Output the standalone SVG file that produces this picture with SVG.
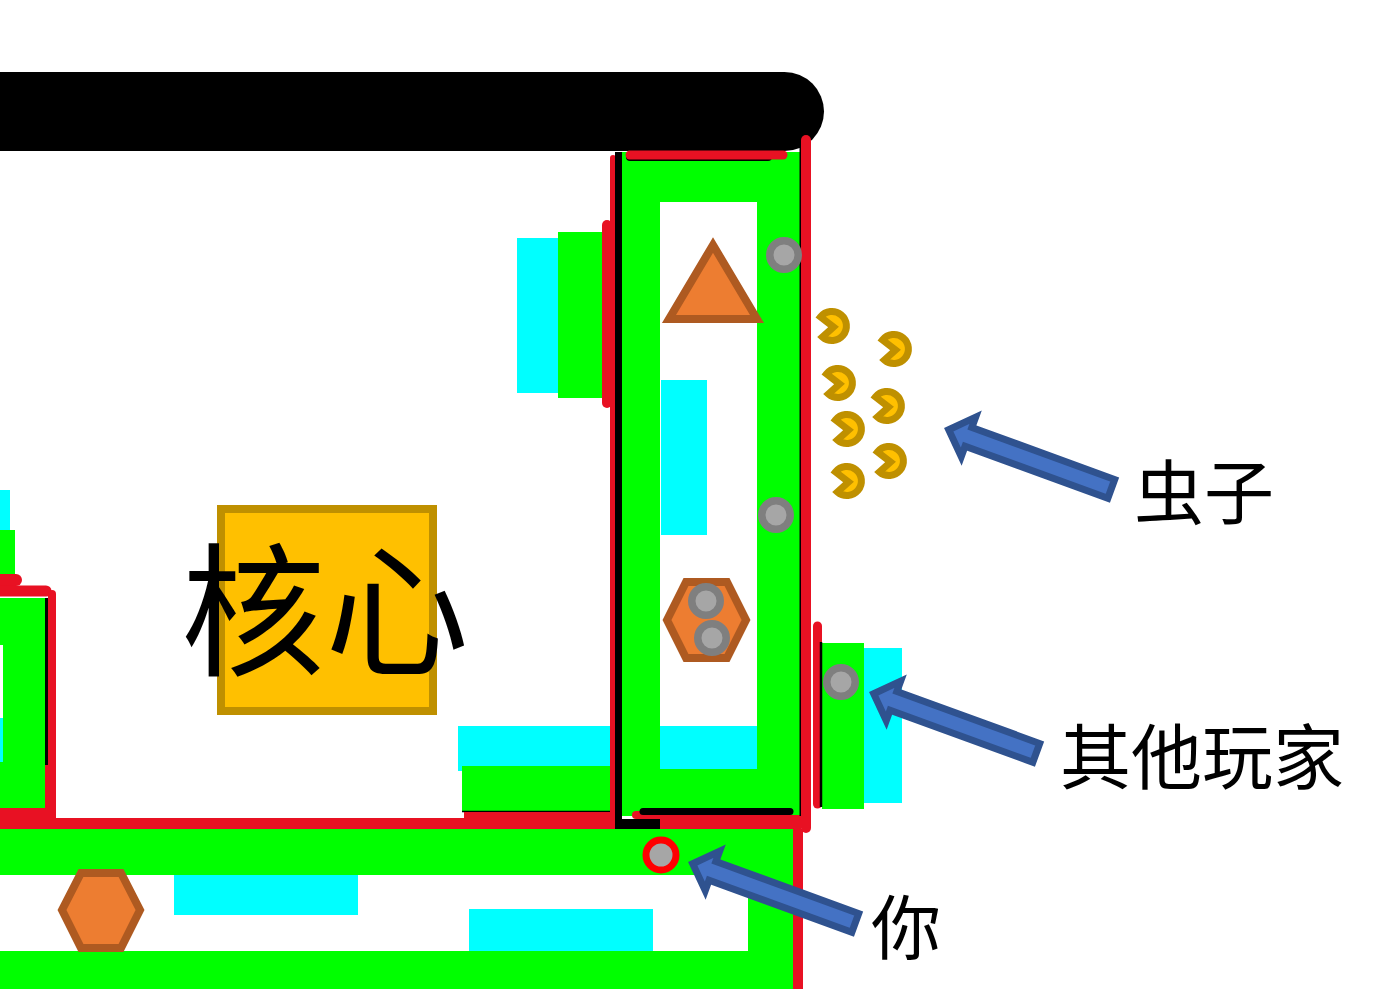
<svg xmlns="http://www.w3.org/2000/svg" xmlns:xlink="http://www.w3.org/1999/xlink" width="1397" height="989" viewBox="0 0 1397 989">
<style>
.g{fill:#00ff00}.c{fill:#00ffff}.w{fill:#fff}
.r{stroke:#e81123;fill:none;stroke-linecap:round}
.rb{stroke:#e81123;fill:none;stroke-linecap:butt}
.k{stroke:#000;fill:none;stroke-linecap:round}
.kb{stroke:#000;fill:none;stroke-linecap:butt}
.o{fill:#ed7d31;stroke:#ae5a21;stroke-width:8}
.p{fill:#a6a6a6;stroke:#7f7f7f;stroke-width:7.500}
.b{fill:#ffc000;stroke:#bf9000;stroke-width:7;stroke-miterlimit:10}
.a{fill:#4472c4;stroke:#2f528f;stroke-width:7;stroke-miterlimit:10}
.t{font-family:"Noto Sans CJK SC","Noto Sans",sans-serif;fill:#000}
</style>
<defs>
<path id="pac" class="b" d="M-11.500,-9 A14.500,14.500 0 1 1 -9.500,11 L1.500,1 Z"/>
<polygon id="arr" class="a" points="5,0 26,-21 26,-10 178,-10 178,10 26,10 26,21"/>
<circle id="pin" class="p" r="14.250"/>
</defs>
<rect width="1397" height="989" fill="#fff"/>
<rect id="wall" x="-60" y="72" width="884" height="79" rx="39.5" fill="#000"/>
<g id="tower-left-fragment">
<rect class="c" x="0" y="490" width="10" height="40"/>
<rect class="g" x="0" y="530" width="15" height="44"/>
<rect class="g" x="0" y="598" width="45" height="210"/>
<rect class="w" x="0" y="645" width="3" height="73"/>
<rect class="c" x="0" y="718" width="3" height="44"/>
<path class="kb" stroke-width="4" d="M47,598V765"/>
<path class="r" stroke-width="12" d="M-5,580H16"/>
<path class="r" stroke-width="11" d="M-5,591H46"/>
<path class="r" stroke-width="8" d="M52,594V818"/>
<rect x="45" y="765" width="5" height="45" fill="#e81123"/>
<rect x="0" y="808" width="56" height="12" fill="#e81123"/>
</g>
<g id="tower-bottom">
<rect class="g" x="0" y="829" width="793" height="160"/>
<rect class="w" x="0" y="875" width="748" height="76"/>
<rect class="c" x="174" y="875" width="184" height="40"/>
<rect class="c" x="469" y="909" width="184" height="42"/>
<path class="rb" stroke-width="10" d="M798,829V989"/>
<rect x="0" y="818" width="615" height="11" fill="#e81123"/>
</g>
<g id="tower-right">
<rect class="c" x="517" y="238" width="43" height="155"/>
<rect class="g" x="558" y="232" width="45" height="166"/>
<rect class="c" x="458" y="726" width="154" height="45"/>
<rect class="g" x="462" y="766" width="150" height="45"/>
<path d="M462,811.500H612" stroke="#000" stroke-width="1.500" fill="none"/>
<rect x="464" y="812" width="150" height="8" fill="#e81123"/>
<rect class="g" x="622" y="152" width="178" height="664"/>
<rect class="w" x="660" y="202" width="97" height="567"/>
<rect class="c" x="661" y="380" width="46" height="155"/>
<rect class="c" x="660" y="726" width="97" height="43"/>
<rect class="c" x="864" y="648" width="38" height="155"/>
<rect class="g" x="822" y="643" width="42" height="166"/>
</g>
<g id="connectors">
<path class="r" stroke-width="10" d="M607,225V403"/>
<path class="r" stroke-width="6" d="M613,158V822"/>
<path class="kb" stroke-width="7" d="M618.500,152V829"/>
<rect x="615" y="819" width="45" height="10" fill="#000"/>
<path class="k" stroke-width="8" d="M630,157H768"/>
<path class="r" stroke-width="9" d="M630,155H783"/>
<path class="r" stroke-width="8" d="M636,815H660"/>
<rect x="660" y="815" width="141" height="14" fill="#e81123"/>
<path class="k" stroke-width="7" d="M643,811.500H790"/>
<path d="M800.500,140V816" stroke="#000" stroke-width="2" fill="none"/>
<path class="r" stroke-width="10" d="M806,140V828"/>
<path class="r" stroke-width="9" d="M817.500,626V804"/>
<path d="M821,642V807" stroke="#000" stroke-width="2.500" fill="none"/>
</g>
<g id="triangle"><polygon class="o" points="713,245 757,319 669,319"/></g>
<g id="hexagon-1"><polygon class="o" points="667,620 686,582 727,582 746,620 727,658 686,658"/></g>
<g id="hexagon-2"><polygon class="o" points="62,910 81,873 121,873 140,910 121,948 81,948"/></g>
<g id="players">
<use xlink:href="#pin" href="#pin" x="784" y="255"/>
<use xlink:href="#pin" href="#pin" x="776" y="515"/>
<use xlink:href="#pin" href="#pin" x="706" y="601"/>
<use xlink:href="#pin" href="#pin" x="712" y="638"/>
<use xlink:href="#pin" href="#pin" x="841" y="682"/>
</g>
<g id="you"><circle cx="661" cy="855" r="15" fill="#a6a6a6" stroke="#ff0000" stroke-width="7"/></g>
<g id="bugs">
<use xlink:href="#pac" href="#pac" x="832" y="326"/>
<use xlink:href="#pac" href="#pac" x="894" y="349"/>
<use xlink:href="#pac" href="#pac" x="838" y="383"/>
<use xlink:href="#pac" href="#pac" x="887" y="406"/>
<use xlink:href="#pac" href="#pac" x="847" y="429"/>
<use xlink:href="#pac" href="#pac" x="889" y="461"/>
<use xlink:href="#pac" href="#pac" x="847" y="481"/>
</g>
<g id="core">
<rect x="221" y="509" width="212" height="202" fill="#ffc000" stroke="#bf9000" stroke-width="8"/>
<text class="t" x="325" y="665" font-size="144" text-anchor="middle">核心</text>
</g>
<g id="arrow-bugs"><use xlink:href="#arr" href="#arr" transform="translate(944,428) rotate(20)"/></g>
<g id="arrow-players"><use xlink:href="#arr" href="#arr" transform="translate(869,692) rotate(20)"/></g>
<g id="arrow-you"><use xlink:href="#arr" href="#arr" transform="translate(688,862) rotate(20)"/></g>
<text id="label-bugs" class="t" x="1134" y="519" font-size="70">虫子</text>
<text id="label-players" class="t" x="1060" y="783" font-size="71">其他玩家</text>
<text id="label-you" class="t" x="871" y="954" font-size="70">你</text>
</svg>
